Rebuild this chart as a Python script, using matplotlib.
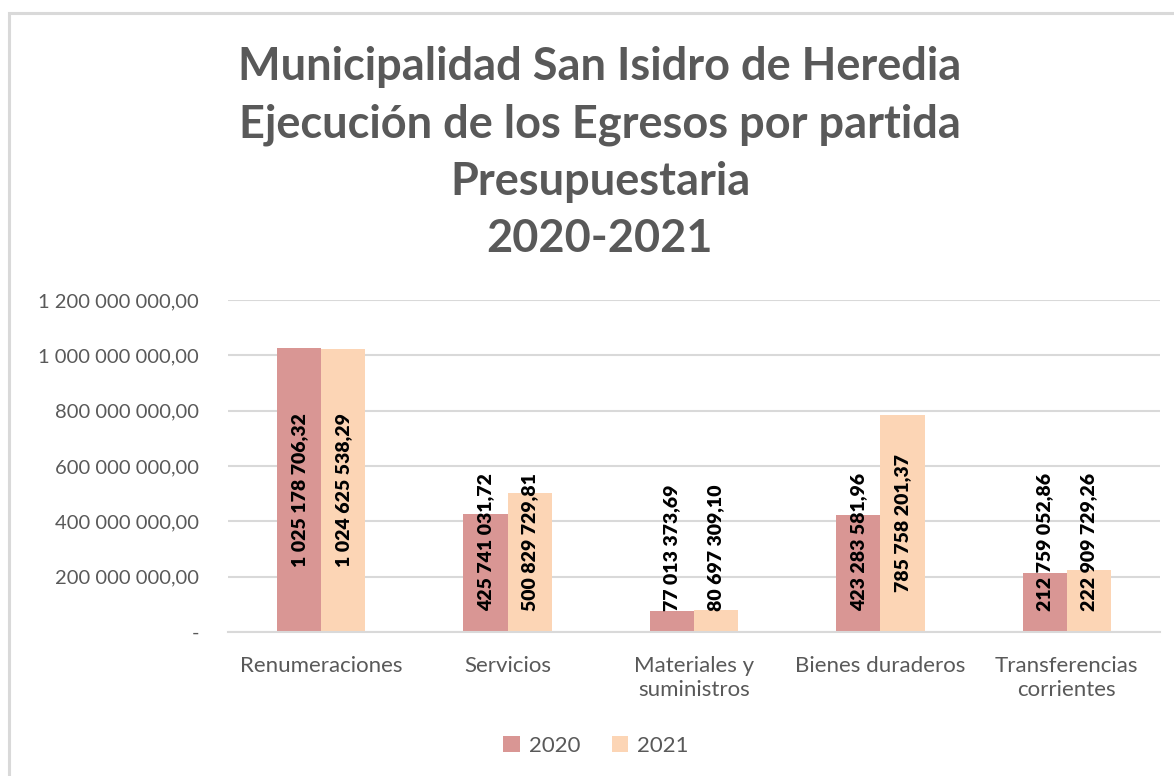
# Ejecucion de egresos por partida, 2020 vs 2021

import matplotlib
matplotlib.use('Agg')
import matplotlib.pyplot as plt
from matplotlib.patches import Rectangle
from matplotlib.ticker import FuncFormatter, MultipleLocator
import numpy

categorias = ["Renumeraciones", "Servicios", "Materiales y\nsuministros",
              "Bienes duraderos", "Transferencias\ncorrientes"]
anios = ["2020", "2021"]
egresos_2020 = [1025178706.32, 425741031.72, 77013373.69, 423283581.96, 212759052.86]
egresos_2021 = [1024625538.29, 500829729.81, 80697309.10, 785758201.37, 222909729.26]

titulo = ("Municipalidad San Isidro de Heredia\n"
          "Ejecución de los Egresos por partida\n"
          "Presupuestaria\n"
          "2020-2021")

color_2020 = '#D99694'
color_2021 = '#FCD5B5'
gris = '#595959'

plt.rcParams['font.family'] = ['Lato', 'DejaVu Sans']


def fmt_num(v):
    s = f"{v:,.2f}"
    return s.replace(",", " ").replace(".", ",")


def fmt_eje(v, pos):
    if abs(v) < 1:
        return "-"
    return fmt_num(v)


fig = plt.figure(figsize=(11.74, 7.76), dpi=100, facecolor='w')
ax = fig.add_axes([228 / 1174, 1 - 632 / 776, (1160 - 228) / 1174, (632 - 300) / 776])

# chart frame (light gray, partly cut by the image edge)
fig.patches.append(Rectangle((9 / 1174, -0.1), 1.2, 1.1 - 13 / 776, transform=fig.transFigure,
                             fill=False, edgecolor='#D9D9D9', linewidth=2.2))

x = numpy.arange(len(categorias))
ancho = 0.237
b1 = ax.bar(x - ancho / 2, egresos_2020, ancho, color=color_2020, label=anios[0], zorder=2)
b2 = ax.bar(x + ancho / 2, egresos_2021, ancho, color=color_2021, label=anios[1], zorder=2)

ax.set_xlim(-0.5, len(categorias) - 0.5)
ax.set_ylim(0, 1.2e9)
ax.yaxis.set_major_locator(MultipleLocator(2e8))
ax.yaxis.set_major_formatter(FuncFormatter(fmt_eje))
ax.grid(axis='y', color='#D9D9D9', linewidth=1.5, zorder=0)
for s in ['top', 'right', 'left']:
    ax.spines[s].set_visible(False)
ax.spines['bottom'].set_color('#D9D9D9')
ax.spines['bottom'].set_linewidth(1.5)
ax.set_xticks(x)
ax.set_xticklabels(categorias, fontsize=16, color=gris, linespacing=1.3)
ax.tick_params(axis='x', length=0, pad=17)
ax.tick_params(axis='y', length=0, pad=21, labelsize=14.5, labelcolor=gris)

# data labels: centred in the bar, but kept clear of the axis for short bars
for barras, valores in [(b1, egresos_2020), (b2, egresos_2021)]:
    for rect, v in zip(barras, valores):
        cx = rect.get_x() + rect.get_width() / 2
        if v > 7e8:
            ax.text(cx, v / 2, fmt_num(v), rotation=90, ha='center', va='center',
                    fontsize=14, fontweight='heavy', color='black', zorder=3)
        else:
            ax.text(cx, 7.6e7, fmt_num(v), rotation=90, ha='center', va='bottom',
                    fontsize=14, fontweight='heavy', color='black', zorder=3)

fig.text(600 / 1174, 1 - 153 / 776, titulo, ha='center', va='center', fontsize=32.5,
         fontweight='bold', color=gris, linespacing=1.45)

fig.legend(handles=[b1, b2], labels=anios, loc='center', bbox_to_anchor=(596 / 1174, 1 - 746 / 776),
           ncol=2, frameon=False, fontsize=16, labelcolor=gris, handlelength=0.75,
           handleheight=0.75, handletextpad=0.4, columnspacing=1.4)

plt.savefig('out.png', dpi=100)
plt.close()
